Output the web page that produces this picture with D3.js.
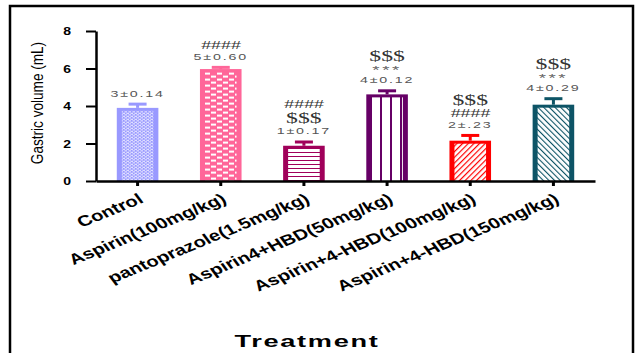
<!DOCTYPE html>
<html lang="en">
<head>
    <meta charset="UTF-8">
    <title>Gastric volume</title>
    <style>
        body { margin: 0; background: #fff; }
        svg { display: block; }
    </style>
</head>
<body>
<script src="https://cdn.jsdelivr.net/npm/d3@7/dist/d3.min.js"></script>
<script>
    let width = 638;
    let height = 353;

    // data
    let categories = ["Control", "Aspirin(100mg/kg)", "pantoprazole(1.5mg/kg)",
        "Aspirin4+HBD(50mg/kg)", "Aspirin+4-HBD(100mg/kg)", "Aspirin+4-HBD(150mg/kg)"];
    let means = [3.9, 5.97, 1.88, 4.62, 2.15, 4.07];
    let errors = [0.2, 0.09, 0.2, 0.19, 0.28, 0.32];
    let valueLabels = ["3±0.14", "5±0.60", "1±0.17", "4±0.12", "2±.23", "4±0.29"];
    let sigMarks = [[], ["####"], ["$$$", "####"], ["***", "$$$"], ["####", "$$$"], ["***", "$$$"]];
    let yTicks = [0, 2, 4, 6, 8];
    let colors = ["#9999ff", "#ff6699", "#a0005a", "#660066", "#ff0000", "#0d5466"];

    let svg = d3.select("body").append("svg")
        .attr("width", width)
        .attr("height", height);

    // frame
    svg.append("rect")
        .attr("x", 10).attr("y", 6)
        .attr("width", 623).attr("height", 360)
        .attr("fill", "none")
        .attr("stroke", "#000")
        .attr("stroke-width", 2.5);

    let y = d3.scaleLinear().domain([0, 8]).range([181, 31]);
    let x = d3.scaleBand().domain(categories).range([96, 595])
        .paddingInner(0.5).paddingOuter(0.25);

    // patterns
    let defs = svg.append("defs");
    function pattern(id, w, h, bg) {
        let p = defs.append("pattern").attr("id", id)
            .attr("patternUnits", "userSpaceOnUse")
            .attr("width", w).attr("height", h);
        p.append("rect").attr("width", w).attr("height", h).attr("fill", bg);
        return p;
    }
    // 0: fine brick
    let p0 = pattern("pat0", 4, 3, colors[0]);
    p0.append("rect").attr("x", 0.5).attr("y", 0.3).attr("width", 2.5).attr("height", 1.1).attr("fill", "#fff").attr("opacity", 0.75);
    p0.append("rect").attr("x", 2.5).attr("y", 1.8).attr("width", 2.5).attr("height", 1.1).attr("fill", "#fff").attr("opacity", 0.75);
    p0.append("rect").attr("x", -1.5).attr("y", 1.8).attr("width", 2.5).attr("height", 1.1).attr("fill", "#fff").attr("opacity", 0.75);
    // 1: checker
    let p1 = pattern("pat1", 12, 6, colors[1]);
    p1.append("rect").attr("x", 1).attr("y", 0.6).attr("width", 5).attr("height", 2).attr("fill", "#fff");
    p1.append("rect").attr("x", 7).attr("y", 3.6).attr("width", 5).attr("height", 2).attr("fill", "#fff");
    p1.append("rect").attr("x", -5).attr("y", 3.6).attr("width", 5).attr("height", 2).attr("fill", "#fff");
    // 2: horizontal lines
    let p2 = pattern("pat2", 4, 4, "#fff");
    p2.append("rect").attr("x", 0).attr("y", 0).attr("width", 4).attr("height", 1).attr("fill", colors[2]);
    // 3: vertical lines
    let p3 = pattern("pat3", 10, 4, "#fff");
    p3.append("rect").attr("x", 0).attr("y", 0).attr("width", 2).attr("height", 4).attr("fill", colors[3]);
    // 4: diagonal /
    let p4 = pattern("pat4", 4, 4, "#fff").attr("patternTransform", "rotate(45)");
    p4.append("rect").attr("x", 0).attr("y", 0).attr("width", 1.2).attr("height", 4).attr("fill", colors[4]);
    // 5: diagonal \
    let p5 = pattern("pat5", 4, 4, "#fff").attr("patternTransform", "rotate(-45)");
    p5.append("rect").attr("x", 0).attr("y", 0).attr("width", 1.1).attr("height", 4).attr("fill", colors[5]);

    let data = categories.map((c, i) => ({c: c, m: means[i], e: errors[i], i: i}));

    // bars: colored outer box, patterned inner
    let bars = svg.append("g").selectAll("g").data(data).enter().append("g");
    bars.append("rect")
        .attr("x", d => x(d.c))
        .attr("y", d => y(d.m))
        .attr("width", x.bandwidth())
        .attr("height", d => y(0) - y(d.m))
        .attr("fill", d => colors[d.i]);
    bars.append("rect")
        .attr("x", d => x(d.c) + 5)
        .attr("y", d => y(d.m) + 3)
        .attr("width", x.bandwidth() - 10)
        .attr("height", d => y(0) - y(d.m) - 3)
        .attr("fill", d => "url(#pat" + d.i + ")");

    // error bars
    bars.append("line")
        .attr("x1", d => x(d.c) + x.bandwidth() / 2)
        .attr("x2", d => x(d.c) + x.bandwidth() / 2)
        .attr("y1", d => y(d.m))
        .attr("y2", d => y(d.m + d.e))
        .attr("stroke", d => colors[d.i])
        .attr("stroke-width", 3);
    bars.append("line")
        .attr("x1", d => x(d.c) + x.bandwidth() / 2 - 9)
        .attr("x2", d => x(d.c) + x.bandwidth() / 2 + 9)
        .attr("y1", d => y(d.m + d.e))
        .attr("y2", d => y(d.m + d.e))
        .attr("stroke", d => colors[d.i])
        .attr("stroke-width", 3);

    // value labels and significance marks, stacked above the error bar
    let ann = svg.append("g");
    data.forEach(d => {
        let cx = x(d.c) + x.bandwidth() / 2;
        let center = y(d.m + d.e) - 11;
        ann.append("text")
            .attr("transform", "translate(" + cx + "," + center + ") scale(1.5,1)")
            .attr("dy", "0.36em")
            .attr("text-anchor", "middle")
            .attr("font-family", "Liberation Sans, Arial, sans-serif")
            .attr("font-size", 9.5)
            .attr("letter-spacing", 1.2)
            .attr("fill", "#555")
            .text(valueLabels[d.i]);
        let top = center - 5;
        sigMarks[d.i].forEach(s => {
            let base;
            let t = ann.append("text")
                .attr("text-anchor", "middle")
                .text(s);
            if (s === "***") {
                base = top - 1;
                top = base - 10;
                t.attr("font-family", "Liberation Sans, Arial, sans-serif")
                    .attr("font-size", 11).attr("letter-spacing", 1.5).attr("fill", "#666");
            } else if (s === "$$$") {
                base = top - 3;
                top = base - 12.6;
                t.attr("font-family", "Liberation Serif, serif")
                    .attr("font-size", 14).attr("fill", "#333");
            } else {
                base = top - 2.3;
                top = base - 9.5;
                t.attr("font-family", "Liberation Sans, Arial, sans-serif")
                    .attr("font-size", 10.5).attr("font-style", "italic").attr("fill", "#333");
            }
            t.attr("transform", "translate(" + cx + "," + base + ") scale(1.7,1)");
        });
    });

    // y axis
    let yAxis = svg.append("g")
        .attr("transform", "translate(96,0)")
        .call(d3.axisLeft(y).tickValues(yTicks).tickSize(10).tickSizeOuter(0));
    yAxis.select(".domain").attr("stroke-width", 2.5);
    yAxis.selectAll(".tick line").attr("stroke-width", 2);
    yAxis.selectAll(".tick text")
        .attr("x", 0)
        .attr("dy", "0.36em")
        .attr("transform", "translate(-25,0) scale(1.4,1)")
        .attr("font-family", "Liberation Sans, Arial, sans-serif")
        .attr("font-weight", "bold")
        .attr("font-size", 10)
        .attr("fill", "#000");

    // x axis
    let xAxis = svg.append("g")
        .attr("transform", "translate(0,181)")
        .call(d3.axisBottom(x).tickSize(5).tickSizeOuter(0));
    xAxis.select(".domain").attr("stroke-width", 2.5);
    xAxis.selectAll(".tick line").attr("stroke-width", 3);
    xAxis.selectAll(".tick text")
        .attr("y", 0).attr("dy", 0)
        .attr("text-anchor", "end")
        .attr("transform", "translate(7,21) scale(1.35,1) rotate(-29)")
        .attr("font-family", "Liberation Sans, Arial, sans-serif")
        .attr("font-weight", "bold")
        .attr("font-size", 15)
        .attr("fill", "#000");

    // axis titles
    svg.append("text")
        .attr("transform", "translate(43,103) rotate(-90) scale(0.8,1)")
        .attr("text-anchor", "middle")
        .attr("font-family", "Liberation Sans, Arial, sans-serif")
        .attr("font-size", 17)
        .attr("fill", "#000")
        .text("Gastric volume (mL)");
    svg.append("text")
        .attr("transform", "translate(307,347) scale(1.7,1)")
        .attr("text-anchor", "middle")
        .attr("font-family", "Liberation Sans, Arial, sans-serif")
        .attr("font-weight", "bold")
        .attr("font-size", 16)
        .attr("letter-spacing", 1)
        .attr("fill", "#000")
        .text("Treatment");
</script>
</body>
</html>
